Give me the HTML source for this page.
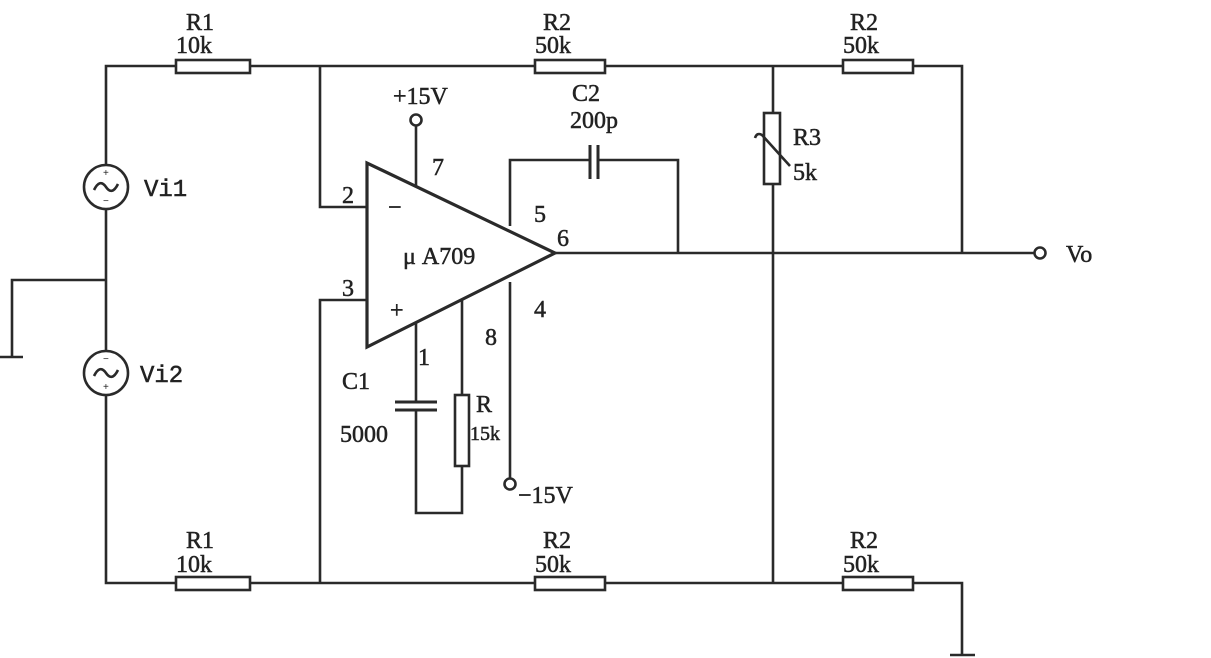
<!DOCTYPE html>
<html><head><style>html,body{margin:0;padding:0;background:#fff;}svg{display:block;}</style></head><body>
<svg width="1211" height="658" viewBox="0 0 1211 658" xmlns="http://www.w3.org/2000/svg">
<g stroke="#2a2a2a" stroke-width="2.6" fill="none">
<polyline points="176,66 106,66 106,165"/>
<line x1="106" y1="209" x2="106" y2="351"/>
<polyline points="176,583 106,583 106,395"/>
<polyline points="106,280 12,280 12,357"/>
<line x1="0" y1="357" x2="23" y2="357"/>
<circle cx="106" cy="187" r="22"/>
<circle cx="106" cy="373" r="22"/>
<path d="M94,190 q6,-12 12,-3 q6,9 12,-3" />
<path d="M94,376 q6,-12 12,-3 q6,9 12,-3" />
<line x1="250" y1="66" x2="535" y2="66"/>
<line x1="605" y1="66" x2="843" y2="66"/>
<polyline points="913,66 962,66 962,253"/>
<rect x="176" y="60" width="74" height="13"/>
<rect x="535" y="60" width="70" height="13"/>
<rect x="843" y="60" width="70" height="13"/>
<line x1="250" y1="583" x2="535" y2="583"/>
<line x1="605" y1="583" x2="843" y2="583"/>
<polyline points="913,583 962,583 962,655"/>
<line x1="950" y1="655" x2="975" y2="655"/>
<rect x="176" y="577" width="74" height="13"/>
<rect x="535" y="577" width="70" height="13"/>
<rect x="843" y="577" width="70" height="13"/>
<polyline points="320,66 320,207 367,207"/>
<polyline points="367,300 320,300 320,583"/>
<polygon points="367,163 367,347 555,253" stroke-width="3.2"/>
<line x1="416" y1="187" x2="416" y2="126"/>
<circle cx="416" cy="120" r="5.5"/>
<polyline points="510,226 510,160 590,160"/>
<polyline points="598,160 678,160 678,253"/>
<line x1="590" y1="145" x2="590" y2="179" stroke-width="3"/>
<line x1="598" y1="145" x2="598" y2="179" stroke-width="3"/>
<line x1="555" y1="253" x2="1034" y2="253"/>
<circle cx="1040" cy="253" r="5.5"/>
<line x1="510" y1="282" x2="510" y2="478"/>
<circle cx="510" cy="484" r="5.5"/>
<polyline points="416,323 416,402"/>
<line x1="395" y1="402" x2="437" y2="402" stroke-width="3"/>
<line x1="395" y1="410" x2="437" y2="410" stroke-width="3"/>
<polyline points="416,410 416,513 462,513 462,466"/>
<line x1="462" y1="300" x2="462" y2="395"/>
<rect x="455" y="395" width="14" height="71"/>
<line x1="773" y1="66" x2="773" y2="113"/>
<line x1="773" y1="184" x2="773" y2="583"/>
<rect x="764" y="113" width="16" height="71"/>
<path d="M755,138 q2,-6 7,-3 L790,166"/>
</g>
<g font-family="Liberation Serif, serif" font-size="24" fill="#222" stroke="#222" stroke-width="0.5">
<text x="186" y="30">R1</text><text x="176" y="53">10k</text>
<text x="543" y="30">R2</text><text x="535" y="53">50k</text>
<text x="850" y="30">R2</text><text x="843" y="53">50k</text>
<text x="186" y="548">R1</text><text x="176" y="572">10k</text>
<text x="543" y="548">R2</text><text x="535" y="572">50k</text>
<text x="850" y="548">R2</text><text x="843" y="572">50k</text>
<text x="393" y="104">+15V</text>
<text x="572" y="101">C2</text><text x="570" y="128">200p</text>
<text x="793" y="145">R3</text><text x="793" y="180">5k</text>
<text x="432" y="175">7</text>
<text x="342" y="203">2</text>
<text x="342" y="296">3</text>
<text x="534" y="222">5</text>
<text x="557" y="246">6</text>
<text x="534" y="317">4</text>
<text x="485" y="345">8</text>
<text x="418" y="365">1</text>
<text x="342" y="389">C1</text>
<text x="340" y="442">5000</text>
<text x="476" y="412">R</text><text x="470" y="440" font-size="20">15k</text>
<text x="518" y="503">−15V</text>
<text x="403" y="264">μ A709</text>
<text x="1066" y="262">Vo</text>
<text x="144" y="196" font-family="Liberation Mono, monospace">Vi1</text>
<text x="140" y="382" font-family="Liberation Mono, monospace">Vi2</text>
<text x="388" y="215">−</text>
<text x="390" y="318">+</text>
</g>
<g font-family="Liberation Sans, sans-serif" font-size="10" fill="#222">
<text x="103" y="176">+</text><text x="103" y="204">−</text>
<text x="103" y="362">−</text><text x="103" y="390">+</text>
</g>
</svg>
</body></html>
